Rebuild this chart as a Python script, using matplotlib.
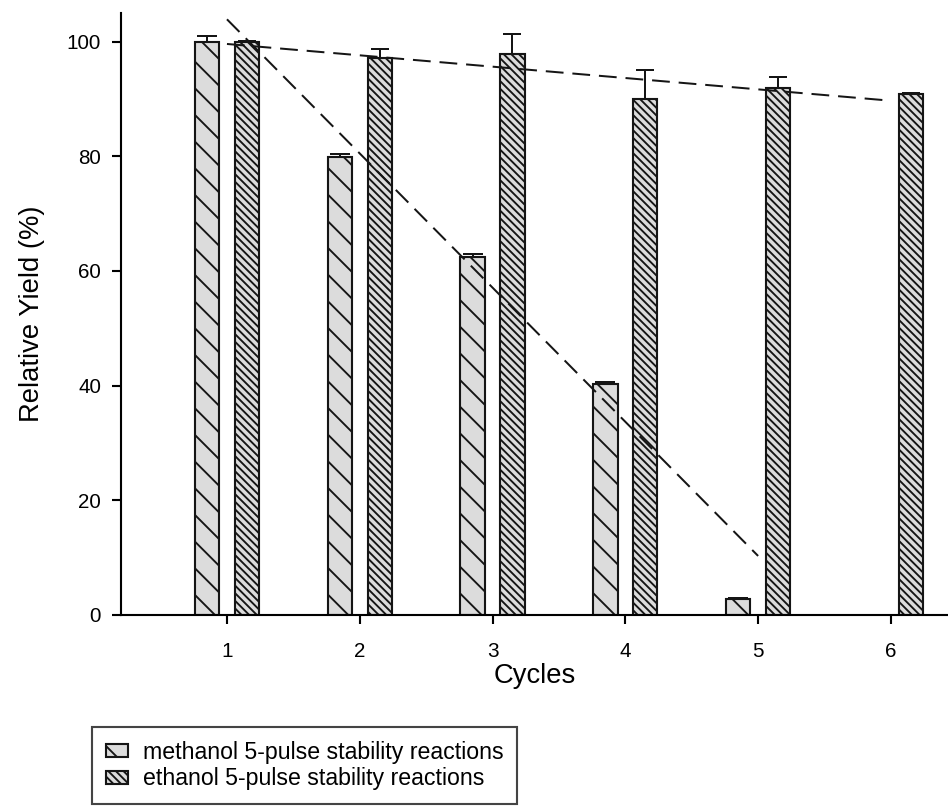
import numpy as np
import matplotlib
matplotlib.use("Agg")
from matplotlib import pyplot as plt

plt.rcParams['font.family'] = ['Liberation Sans', 'DejaVu Sans']
plt.rcParams['hatch.linewidth'] = 0.85
plt.rcParams['lines.scale_dashes'] = False

# relative yield per cycle, with upper error
cycles = [1, 2, 3, 4, 5, 6]
methanol_cycles = [1, 2, 3, 4, 5]
methanol_yield = [100.0, 79.9, 62.5, 40.3, 2.8]
methanol_err = [1.0, 0.5, 0.4, 0.4, 0.1]
ethanol_yield = [100.0, 97.2, 97.9, 90.0, 91.9, 90.9]
ethanol_err = [0.2, 1.6, 3.4, 5.1, 1.9, 0.2]

labels = ['methanol 5-pulse stability reactions',
          'ethanol 5-pulse stability reactions']

DPI = 160
fig = plt.figure(figsize=(948 / DPI, 809 / DPI), dpi=DPI)
ax = fig.add_axes([121 / 948, 1 - 615 / 809, (948 - 121) / 948, (615 - 13) / 809])

w = 0.183
off = 0.15
fill = '#dcdcdc'
ink = '#151515'
# error bars sit behind the bars so only the upper half shows
ekw = dict(elinewidth=0.9, capthick=0.9, ecolor=ink, zorder=0.5)

b1 = ax.bar(np.array(methanol_cycles) - off, methanol_yield, width=w,
            color=fill, edgecolor=ink, linewidth=0.95, hatch='\\\\',
            yerr=methanol_err, capsize=4.6, error_kw=ekw, zorder=1,
            label=labels[0])
b2 = ax.bar(np.array(cycles) + off, ethanol_yield, width=w,
            color=fill, edgecolor=ink, linewidth=0.95, hatch='\\' * 7,
            yerr=ethanol_err, capsize=4.2, error_kw=ekw, zorder=1,
            label=labels[1])

# linear trend lines through each series
for xs, ys in [(methanol_cycles, methanol_yield), (cycles, ethanol_yield)]:
    k, c = np.polyfit(xs, ys, 1)
    xx = np.array([xs[0], xs[-1]])
    ax.plot(xx, k * xx + c, color=ink, lw=0.9, dashes=(8, 4), zorder=2)

ax.set_xlim(0.202, 6.43)
ax.set_ylim(0, 105)
ax.set_xticks(cycles)
ax.set_yticks([0, 20, 40, 60, 80, 100])
ax.spines['top'].set_visible(False)
ax.spines['right'].set_visible(False)
for s in ['left', 'bottom']:
    ax.spines[s].set_linewidth(0.95)
ax.tick_params(direction='out', length=4, width=0.95, labelsize=9.3)
ax.tick_params(axis='x', pad=8)
ax.tick_params(axis='y', pad=5)
ax.set_xlabel('Cycles', fontsize=12.3, labelpad=1)
ax.set_ylabel('Relative Yield (%)', fontsize=12.3, labelpad=10)

leg = fig.legend(handles=[b1, b2], loc='upper left',
                 bbox_to_anchor=(92 / 948, 1 - 727 / 809),
                 fontsize=10.4, frameon=True, fancybox=False,
                 edgecolor=ink, borderpad=0.6, labelspacing=0.15,
                 handlelength=0.95, handleheight=0.5, handletextpad=0.65,
                 borderaxespad=0)
leg.get_frame().set_linewidth(0.95)

fig.savefig('out.png', dpi=DPI)
